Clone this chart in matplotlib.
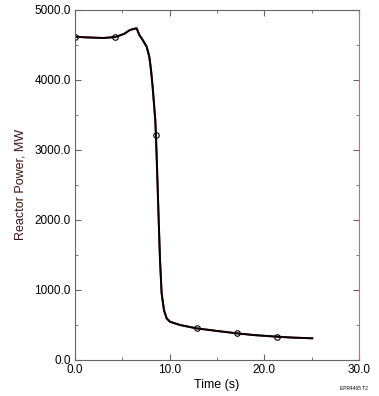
import numpy as np
import matplotlib.pyplot as plt
from matplotlib.ticker import MultipleLocator, FormatStrFormatter

plt.rcParams['font.family'] = ['Liberation Sans', 'DejaVu Sans']

# reactor power trace
time_s = [0.0, 1.0, 2.0, 3.0, 4.26, 5.2, 5.8, 6.2, 6.51, 6.8, 7.15, 7.57,
          7.85, 8.03, 8.2, 8.34, 8.48, 8.55, 8.7, 8.84, 8.98, 9.15, 9.4,
          9.68, 10.03, 11.09, 12.85, 15.0, 17.07, 19.0, 21.36, 23.0, 25.06]
power_mw = [4620, 4610, 4605, 4600, 4614, 4660, 4714, 4730, 4738, 4643,
            4571, 4476, 4333, 4143, 3905, 3667, 3429, 3214, 2600, 2000,
            1429, 953, 714, 595, 547, 500, 452, 415, 381, 355, 333, 320, 310]

# circle markers sit on these samples
marker_t = [0.0, 4.26, 8.55, 12.85, 17.07, 21.36]
marker_p = [4620, 4614, 3214, 452, 381, 333]

fig = plt.figure(figsize=(3.79, 3.96), dpi=100)
ax = fig.add_axes([75 / 379, 36 / 396, 284 / 379, 350 / 396])

ax.plot(time_s, power_mw, color='#b02020', lw=1.4)
ax.plot(time_s, power_mw, color='black', lw=1.4)
ax.plot(marker_t, marker_p, 'o', mfc='none', mec='black', ms=4, mew=0.8)

ax.set_xlim(0, 30)
ax.set_ylim(0, 5000)
ax.xaxis.set_major_locator(MultipleLocator(10))
ax.xaxis.set_minor_locator(MultipleLocator(5))
ax.yaxis.set_major_locator(MultipleLocator(1000))
ax.yaxis.set_minor_locator(MultipleLocator(500))
ax.xaxis.set_major_formatter(FormatStrFormatter('%.1f'))
ax.yaxis.set_major_formatter(FormatStrFormatter('%.1f'))
ax.tick_params(which='both', direction='in', top=True, right=True,
               labelsize=8.5, color='#666666', pad=3)
ax.tick_params(which='major', length=4)
ax.tick_params(which='minor', length=2)
for s in ['left', 'bottom', 'top']:
    ax.spines[s].set_color('#666666')
    ax.spines[s].set_linewidth(0.8)
ax.spines['right'].set_color('#b07090')
ax.spines['right'].set_linewidth(0.8)

ax.set_xlabel('Time (s)', fontsize=9, labelpad=2)
ax.set_ylabel('Reactor Power, MW', fontsize=9, color='#401010', labelpad=6)
fig.text(354 / 379, 6 / 396, 'EPR4465 T2', fontsize=3.5, ha='center')

fig.savefig('out.png', dpi=100)
